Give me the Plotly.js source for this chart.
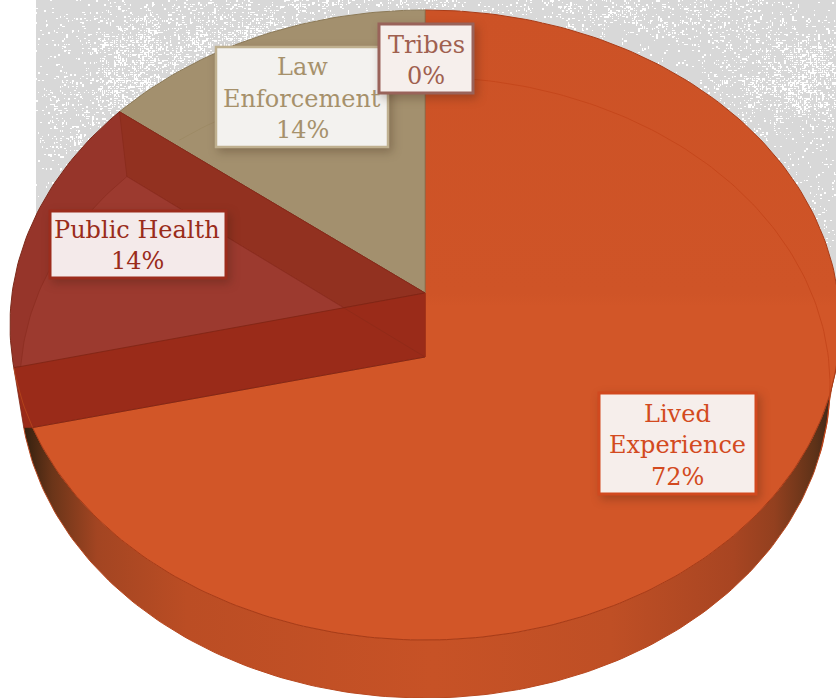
<!DOCTYPE html>
<html>
<head>
<meta charset="utf-8">
<script src="https://cdn.plot.ly/plotly-3.0.1.min.js"></script>
<style>
html,body{margin:0;padding:0;background:#fff;overflow:hidden}
#chart{width:836px;height:698px}
.layer-above .shapelayer path{filter:drop-shadow(3px 4px 5px rgba(50,25,10,.28))}
</style>
</head>
<body>
<div id="chart"></div>
<script>
// ---- data ----
const categories = ["Lived Experience", "Public Health", "Law Enforcement", "Tribes"];
const shares = [72, 14, 14, 0];
const labelLines = [["Lived", "Experience"], ["Public Health"], ["Law", "Enforcement"], ["Tribes"]];
const labelColors = ["#d34a20", "#9a2c1a", "#a6916b", "#a0604f"];
const boxBorders = ["#d1491f", "#9c2c1c", "#bfb08f", "#99635a"];
const boxFills = ["#f6eeeb", "#f4eaea", "#f3f2ef", "#f6efec"];
const boxWidths = [3, 3, 2.5, 3];
// label box: x0, y0, x1, y1 and first text-line centre
const boxX0 = [599, 50, 216, 379];
const boxY0 = [393, 211, 47, 24];
const boxX1 = [756, 226, 388, 473];
const boxY1 = [494, 278, 147, 93];
const lineStep = 31.7;
const firstLineY = [413.5, 229.5, 67, 44.5];
const textX = [677, 137, 302, 426];

// ---- pie geometry ----
const TOP = {cx: 425, cy: 325, rx: 415, ry: 315};
const BASE = {cx: 425, cy: 385, rx: 405, ry: 313};
const INNER = {cx: 425, cy: 385, rx: 405, ry: 308};
const apexY = 293, apexLowY = 357;
const cutTilt = 3, frontTilt = -8.2, innerTilt = 6.5;

const cum = [];
shares.reduce((s, v, i) => (cum[i] = s + v), 0);
const deg = c => c * 3.6;
const endLE = deg(cum[0]);
const cutA = endLE + cutTilt;           // rim: Lived Experience / Public Health
const cutB = deg(cum[1]) + cutTilt;     // rim: Public Health / Law Enforcement
const frontA = endLE + frontTilt;       // where the front face meets the rim

function pt(e, a) {
  const r = a * Math.PI / 180;
  return [e.cx + e.rx * Math.sin(r), e.cy - e.ry * Math.cos(r)];
}
function arc(e, a, b, step) {
  const out = [], n = Math.max(2, Math.ceil(Math.abs(b - a) / (step || 1)));
  for (let i = 0; i <= n; i++) out.push(pt(e, a + (b - a) * i / n));
  return out;
}
function cross(p1, p2, p3, p4) {
  const d = (p1[0]-p2[0])*(p3[1]-p4[1]) - (p1[1]-p2[1])*(p3[0]-p4[0]);
  const t = ((p1[0]-p3[0])*(p3[1]-p4[1]) - (p1[1]-p3[1])*(p3[0]-p4[0])) / d;
  return [p1[0] + t*(p2[0]-p1[0]), p1[1] + t*(p2[1]-p1[1])];
}
const A = [TOP.cx, apexY], B = [TOP.cx, apexLowY];
const Q = cross(A, pt(TOP, cutA), B, pt(INNER, cutB));

function poly(name, pts, fill, lineColor, lineW, extra) {
  const xs = pts.map(p => p[0]), ys = pts.map(p => p[1]);
  xs.push(xs[0]); ys.push(ys[0]);
  return Object.assign({
    type: 'scatter', mode: 'lines', name, x: xs, y: ys, fill: 'toself', fillcolor: fill,
    line: {color: lineColor || fill, width: lineW === undefined ? 1 : lineW},
    hoverinfo: 'name', showlegend: false
  }, extra || {});
}
function path(name, pts, color, w, op) {
  return {type: 'scatter', mode: 'lines', name, x: pts.map(p => p[0]), y: pts.map(p => p[1]),
    line: {color, width: w || 1}, opacity: op === undefined ? 1 : op, hoverinfo: 'skip', showlegend: false};
}

const wallPts = arc(BASE, 93, cutA).concat(arc(TOP, frontA, 93));
const traces = [
  poly(categories[0], wallPts, '#c25025', '#b8481f', 1, {
    fillgradient: {type: 'horizontal', colorscale: [
      [0, '#33200f'], [0.035, '#6b3519'], [0.09, '#a34522'], [0.2, '#bb4d24'], [0.5, '#c75226'],
      [0.72, '#bf4f25'], [0.87, '#a84522'], [0.92, '#93401f'], [0.97, '#5e3218'], [1, '#30221a']]}
  }),
  poly(categories[0], [[TOP.cx, TOP.cy - TOP.ry]].concat(arc(TOP, 0, frontA), [B]), '#d15528', '#a83c18', 1, {
    fillgradient: {type: 'vertical', start: 10, stop: 640, colorscale: [[0, '#cc5226'], [0.45, '#cf5427'], [0.47, '#d25628'], [1, '#d25628']]}
  }),
  poly(categories[2], [A].concat(arc(TOP, cutB, 360)), '#a3906e', '#8c7a58', 1),
  poly(categories[1], [A].concat(arc(TOP, cutA, cutB)), '#96352a', '#7c2a1a', 1),
  poly(categories[1], [pt(TOP, cutB), pt(INNER, cutB), Q, A], '#923120', '#86291a', 0.7),
  poly(categories[1], arc(INNER, cutB, endLE + innerTilt).concat([Q]), '#9c3a2f', '#8a2c20', 0.7),
  poly(categories[1], [A, B, pt(TOP, frontA), pt(BASE, cutA), pt(TOP, cutA)], '#9a2b19', '#7e2414', 0.8),
  path('', [Q, B], '#862a18', 0.8, 0.6),
  path('', arc(TOP, frontA, cutA), '#b8481c', 1, 0.8),
  path('', arc(INNER, 0, 103), '#c4461b', 1, 0.9),
  path('', arc(INNER, cutB + 10, 360), '#958259', 1, 0.4),
  path('', [A, B], '#a52f18', 1)
];

// ---- background texture (fixed pattern, not data) ----
function hash(i, j) {
  let h = (i * 374761393 + j * 668265263) | 0;
  h = Math.imul(h ^ (h >>> 13), 1274126177);
  return ((h ^ (h >>> 16)) >>> 0) / 4294967296;
}
function smooth(x, y, s) {
  const i = Math.floor(x / s), j = Math.floor(y / s), u = x / s - i, v = y / s - j;
  return (hash(i, j) * (1 - u) + hash(i + 1, j) * u) * (1 - v) + (hash(i, j + 1) * (1 - u) + hash(i + 1, j + 1) * u) * v;
}
function texture() {
  const W = 800, H = 300, c = document.createElement('canvas');
  c.width = W; c.height = H;
  const g = c.getContext('2d');
  g.fillStyle = '#d8d8d8'; g.fillRect(0, 0, W, H);
  const blobs = [[110, 70, 75, 55, .62], [230, 30, 90, 35, .4], [45, 150, 40, 50, .18], [770, 75, 90, 45, .6],
    [610, 15, 110, 25, .32], [370, 3, 110, 10, .3], [790, 200, 60, 60, .12]];
  g.fillStyle = '#ffffff';
  for (let y = 0; y < H; y += 2) for (let x = 0; x < W; x += 2) {
    let d = .012;
    for (const b of blobs) {
      const dx = (x - b[0]) / b[2], dy = (y - b[1]) / b[3];
      d += b[4] * Math.exp(-(dx * dx + dy * dy));
    }
    d *= 0.35 + 1.3 * smooth(x, y, 14);
    if (hash(x + 3, y + 7) < d) g.fillRect(x, y, 1 + (hash(x, y) > .5 ? 1 : 0), 1 + (hash(y, x) > .6 ? 1 : 0));
  }
  return c.toDataURL('image/png');
}

// ---- labels ----
const annotations = [], shapes = [];
const drawOrder = [0, 1, 2, 3];
drawOrder.forEach(i => {
  shapes.push({type: 'rect', layer: 'above', xref: 'x', yref: 'y', x0: boxX0[i], y0: boxY0[i], x1: boxX1[i], y1: boxY1[i],
    fillcolor: boxFills[i], line: {color: boxBorders[i], width: boxWidths[i]}});
  labelLines[i].concat([shares[i] + '%']).forEach((t, k) => annotations.push({
    xref: 'x', yref: 'y', x: textX[i], y: firstLineY[i] + k * lineStep, text: t, showarrow: false,
    xanchor: 'center', yanchor: 'middle',
    font: {family: '"DejaVu Serif", serif', size: 24, color: labelColors[i]}
  }));
});

Plotly.newPlot('chart', traces, {
  width: 836, height: 698,
  margin: {l: 0, r: 0, t: 0, b: 0},
  paper_bgcolor: '#ffffff', plot_bgcolor: 'rgba(0,0,0,0)',
  xaxis: {range: [0, 836], visible: false, fixedrange: true},
  yaxis: {range: [698, 0], visible: false, fixedrange: true},
  showlegend: false,
  images: [{source: texture(), xref: 'x', yref: 'y', x: 36, y: 0, sizex: 800, sizey: 300,
    xanchor: 'left', yanchor: 'top', sizing: 'stretch', layer: 'below'}],
  shapes, annotations
}, {displayModeBar: false});
</script>
</body>
</html>
